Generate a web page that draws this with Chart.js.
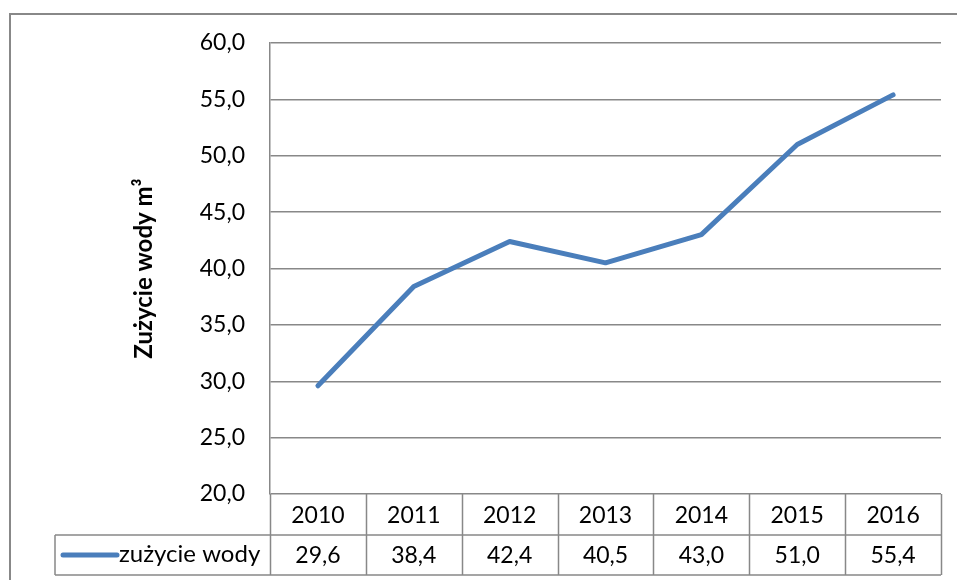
<!DOCTYPE html>
<html>
<head>
<meta charset="utf-8">
<script src="https://cdn.jsdelivr.net/npm/chart.js@4/dist/chart.umd.min.js"></script>
<style>
  body { margin: 0; background: #fff; }
  canvas { display: block; }
</style>
</head>
<body>
<canvas id="waterChart" width="957" height="580"></canvas>
<script>
const years = ['2010', '2011', '2012', '2013', '2014', '2015', '2016'];
const usage = [29.6, 38.4, 42.4, 40.5, 43.0, 51.0, 55.4];
const seriesName = 'zużycie wody';
const axisTitle = 'Zużycie wody m³';

const fontName = 'Lato, "Open Sans", sans-serif';
const lineColor = '#4a7ebb';
const gridColor = '#888888';

function fmt(v) {
  return v.toFixed(1).replace('.', ',');
}

// outer frame + data table under the plot
const tablePlugin = {
  id: 'dataTable',
  beforeDraw(chart) {
    const c = chart.ctx;
    c.save();
    c.strokeStyle = gridColor;
    c.lineWidth = 2;
    c.beginPath();
    c.moveTo(10, 580);
    c.lineTo(10, 14);
    c.lineTo(957, 14);
    c.stroke();
    c.restore();
  },
  afterDraw(chart) {
    const c = chart.ctx;
    const x = chart.scales.x;
    const area = chart.chartArea;
    const step = (area.right - area.left) / years.length;
    const top = area.bottom;
    const mid = top + 41;
    const bottom = top + 81;
    const tableLeft = 55;

    c.save();
    c.strokeStyle = gridColor;
    c.lineWidth = 1.5;
    c.beginPath();
    c.moveTo(tableLeft, mid); c.lineTo(area.right, mid);
    c.moveTo(tableLeft, bottom); c.lineTo(area.right, bottom);
    c.moveTo(tableLeft, mid); c.lineTo(tableLeft, bottom);
    for (let i = 0; i <= years.length; i++) {
      const px = Math.round(area.left + i * step) + 0.5;
      c.moveTo(px, top); c.lineTo(px, bottom);
    }
    c.stroke();

    c.fillStyle = '#000';
    c.font = '23px ' + fontName;
    c.textAlign = 'center';
    c.textBaseline = 'middle';
    years.forEach((y, i) => {
      const px = x.getPixelForValue(i);
      c.fillText(y, px, top + 22);
      c.fillText(fmt(usage[i]), px, mid + 21);
    });

    // legend key
    c.strokeStyle = lineColor;
    c.lineWidth = 5;
    c.lineCap = 'round';
    c.beginPath();
    c.moveTo(63, mid + 20);
    c.lineTo(117, mid + 20);
    c.stroke();
    c.textAlign = 'left';
    c.font = '24px ' + fontName;
    c.fillText(seriesName, 119, mid + 19);
    c.restore();
  }
};

const ctx = document.getElementById('waterChart').getContext('2d');
const waterChart = new Chart(ctx, {
  type: 'line',
  data: {
    labels: years,
    datasets: [{
      label: seriesName,
      data: usage,
      borderColor: lineColor,
      borderWidth: 5,
      borderCapStyle: 'round',
      borderJoinStyle: 'round',
      pointRadius: 0,
      tension: 0,
      fill: false
    }]
  },
  options: {
    responsive: false,
    animation: false,
    layout: {
      padding: { left: 0, top: 43, right: 16, bottom: 86 }
    },
    plugins: {
      legend: { display: false },
      tooltip: { enabled: false }
    },
    scales: {
      x: {
        offset: true,
        grid: { display: false },
        border: { display: false },
        ticks: { display: false },
        afterFit(scale) { scale.height = 0; }
      },
      y: {
        min: 20,
        max: 60,
        ticks: {
          stepSize: 5,
          padding: 25,
          color: '#000',
          font: { family: fontName, size: 23 },
          callback: (v) => fmt(v)
        },
        grid: {
          color: gridColor,
          lineWidth: 1.5,
          drawTicks: false
        },
        border: { color: gridColor, width: 1.5 },
        title: {
          display: true,
          text: axisTitle,
          color: '#000',
          font: { family: fontName, size: 24, weight: 'bold' },
          padding: { top: 130, bottom: 0 }
        },
        afterFit(scale) { scale.width = 270; }
      }
    }
  },
  plugins: [tablePlugin]
});
</script>
</body>
</html>
